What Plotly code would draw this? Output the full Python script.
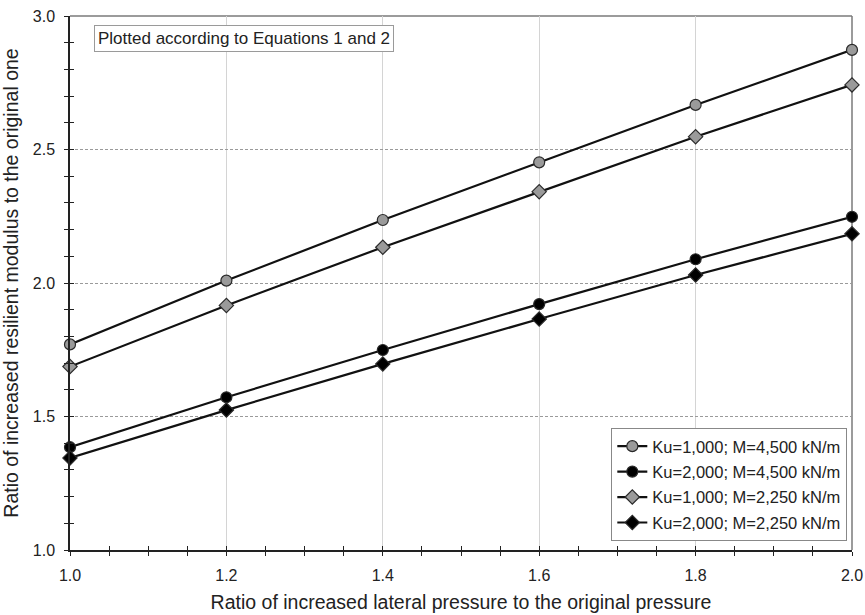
import plotly.graph_objects as go

# Data
x_ratio = [1.0, 1.2, 1.4, 1.6, 1.8, 2.0]
ku1000_m4500 = [1.770, 2.009, 2.236, 2.452, 2.667, 2.873]
ku2000_m4500 = [1.385, 1.572, 1.749, 1.921, 2.089, 2.248]
ku1000_m2250 = [1.687, 1.916, 2.134, 2.342, 2.548, 2.742]
ku2000_m2250 = [1.345, 1.524, 1.697, 1.865, 2.030, 2.184]
series_names = [
    "Ku=1,000; M=4,500 kN/m",
    "Ku=2,000; M=4,500 kN/m",
    "Ku=1,000; M=2,250 kN/m",
    "Ku=2,000; M=2,250 kN/m",
]
x_ticks = [1.0, 1.2, 1.4, 1.6, 1.8, 2.0]
y_ticks = [1.0, 1.5, 2.0, 2.5, 3.0]

FONT = "Liberation Sans, Arial, sans-serif"

styles = [
    dict(symbol="circle", color="#9a9a9a", size=11),
    dict(symbol="circle", color="#000000", size=11),
    dict(symbol="diamond", color="#9a9a9a", size=11),
    dict(symbol="diamond", color="#000000", size=11),
]
values = [ku1000_m4500, ku2000_m4500, ku1000_m2250, ku2000_m2250]

fig = go.Figure()
for i, (name, vals, st) in enumerate(zip(series_names, values, styles)):
    fig.add_trace(go.Scatter(
        x=x_ratio, y=vals, name=name, mode="lines+markers",
        legendgroup=f"g{i}",
        line=dict(color="#111111", width=2.2),
        marker=dict(symbol=st["symbol"], size=st["size"], color=st["color"],
                    line=dict(color="#2a2a2a", width=1.2)),
        cliponaxis=False,
    ))

# invisible trace to carry the overlay axes (inside tick marks)
fig.add_trace(go.Scatter(x=[], y=[], xaxis="x2", yaxis="y2", showlegend=False,
                         hoverinfo="skip"))

axis_common = dict(showline=True, linecolor="#222222", linewidth=1.5, automargin=False,
                   zeroline=False, ticklen=4, tickwidth=1.2, tickcolor="#222222",
                   ticklabeloverflow="allow")

fig.update_layout(
    width=865, height=615,
    margin=dict(l=70, r=13, t=16, b=65, autoexpand=False),
    paper_bgcolor="white", plot_bgcolor="white",
    font=dict(family=FONT, size=16, color="#222222"),
    showlegend=True,
    legend=dict(x=0.994, y=0.017, xanchor="right", yanchor="bottom",
                bgcolor="white", bordercolor="#888888", borderwidth=1,
                font=dict(size=16.5, family=FONT), tracegroupgap=1,
                itemwidth=30),
    xaxis=dict(range=[1.0, 2.0], tickvals=x_ticks, ticktext=[f"{v:.1f}" for v in x_ticks],
               ticks="outside", ticklabelstandoff=6,
               minor=dict(dtick=0.05, tick0=1.0, ticks="outside", ticklen=4,
                          tickcolor="#222222", tickwidth=1.2, showgrid=False),
               showgrid=True, gridcolor="#d4d4d4", gridwidth=1,
               title=dict(text="Ratio of increased lateral pressure to the original pressure",
                          font=dict(size=19.5), standoff=12),
               **axis_common),
    yaxis=dict(range=[1.0, 3.0], tickvals=y_ticks, ticktext=[f"{v:.1f}" for v in y_ticks],
               ticks="outside", ticklabelstandoff=6,
               minor=dict(dtick=0.1, tick0=1.0, ticks="outside", ticklen=4,
                          tickcolor="#222222", tickwidth=1.2, showgrid=False),
               showgrid=True, gridcolor="#9a9a9a", gridwidth=1, griddash="3px,2px",
               title=dict(text="Ratio of increased resilient modulus to the original one",
                          font=dict(size=19.5), standoff=12),
               **axis_common),
    xaxis2=dict(overlaying="x", anchor="y2", range=[1.0, 2.0], tickvals=x_ticks,
                showticklabels=False, showgrid=False, showline=False, zeroline=False,
                ticks="inside", ticklen=4, tickwidth=1.2, tickcolor="#222222",
                minor=dict(dtick=0.05, tick0=1.0, ticks="inside", ticklen=4,
                           tickcolor="#222222", tickwidth=1.2)),
    yaxis2=dict(overlaying="y", anchor="x2", range=[1.0, 3.0], tickvals=y_ticks,
                showticklabels=False, showgrid=False, showline=False, zeroline=False,
                ticks="inside", ticklen=4, tickwidth=1.2, tickcolor="#222222",
                minor=dict(dtick=0.1, tick0=1.0, ticks="inside", ticklen=4,
                           tickcolor="#222222", tickwidth=1.2)),
    shapes=[
        dict(type="line", xref="paper", yref="paper", x0=0, x1=1, y0=1, y1=1,
             line=dict(color="#7a7a7a", width=1.5), layer="below"),
        dict(type="line", xref="paper", yref="paper", x0=1, x1=1, y0=0, y1=1,
             line=dict(color="#7a7a7a", width=1.5), layer="below"),
    ],
    annotations=[
        dict(text="Plotted according to Equations 1 and 2", xref="paper", yref="paper",
             x=0.031, y=0.983, xanchor="left", yanchor="top", showarrow=False,
             font=dict(size=17, family=FONT, color="#222222"),
             bgcolor="white", bordercolor="#9a9a9a", borderwidth=1, borderpad=3),
    ],
)

# remove the default page margin so the 865x615 figure fills the window exactly
fig.write_html("out.html",
               config={"displayModeBar": False},
               post_script="document.body.style.margin='0';document.body.style.overflow='hidden';")
